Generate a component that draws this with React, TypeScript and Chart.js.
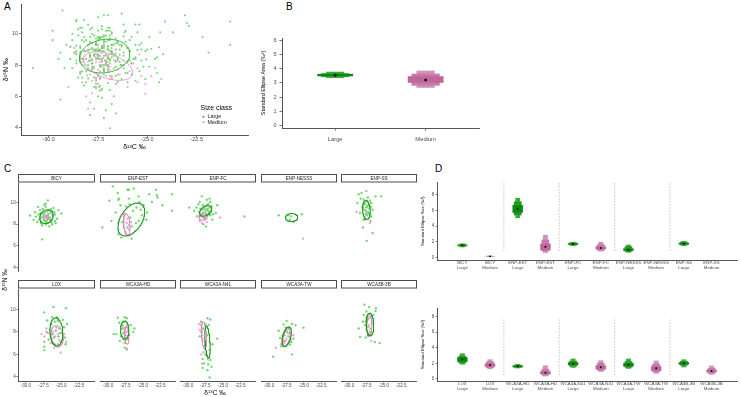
import React, { useEffect, useRef } from 'react';
import { Chart, registerables } from 'chart.js';

Chart.register(...registerables);

const FONT = '"Liberation Sans", Arial, Helvetica, sans-serif';

// ---------- data ----------
const SITES = ['BICY', 'ENP-EST', 'ENP-FC', 'ENP-NESSS', 'ENP-SS', 'LOX', 'WCA3A-HD', 'WCA3A-N41', 'WCA3A-TW', 'WCA3B-3B'];
const SIZE_CLASSES = ['Large', 'Medium'];

// [δ13C, δ15N] per individual
const BICY_LARGE = [[-27.1, 8.7], [-27.5, 8.9], [-26.8, 8.5], [-27.3, 8.3], [-26.6, 9.0], [-27.9, 8.6], [-28.2, 8.9], [-26.2, 8.8], [-27.0, 9.2], [-27.6, 9.4], [-26.4, 8.2], [-27.8, 8.1], [-28.6, 8.7], [-25.6, 8.5], [-25.0, 9.0], [-29.4, 8.8], [-26.9, 10.2], [-27.4, 9.8], [-26.1, 9.5], [-28.0, 9.3], [-27.2, 8.0], [-26.7, 7.8], [-27.7, 7.9], [-28.4, 8.2], [-25.8, 8.1], [-26.5, 9.4], [-27.0, 8.4], [-27.4, 8.6], [-26.9, 8.9], [-27.7, 6.6], [-28.9, 8.4], [-25.4, 9.3], [-26.3, 8.0], [-27.6, 9.0], [-26.6, 8.6], [-27.2, 9.6], [-25.9, 8.9], [-27.3, 9.1], [-26.8, 9.3], [-27.9, 9.0], [-26.5, 8.4], [-27.1, 8.2], [-28.1, 8.4], [-26.0, 9.1], [-27.5, 8.4], [-26.9, 8.1], [-27.6, 8.7], [-26.3, 9.2], [-28.3, 9.6], [-25.9, 8.3], [-27.2, 9.9], [-28.7, 9.1]];
const BICY_MEDIUM = [[-27.0, 8.6], [-27.3, 8.8], [-26.9, 8.7], [-26.6, 8.3], [-27.5, 8.5]];
const ENP_EST_LARGE = [[-29.3, 11.5], [-28.6, 10.9], [-27.2, 11.2], [-27.0, 11.2], [-28.4, 10.4], [-28.5, 10.3], [-25.6, 10.6], [-25.5, 10.1], [-24.1, 10.8], [-23.1, 11.2], [-23.0, 10.7], [-22.9, 10.5], [-20.8, 10.8], [-20.8, 9.3], [-23.7, 10.1], [-24.4, 9.15], [-30.8, 7.8], [-29.5, 8.4], [-28.5, 7.2], [-28.1, 6.9], [-26.6, 6.8], [-27.2, 7.8], [-26.8, 8.7], [-26.4, 9.3], [-25.9, 9.6], [-26.6, 7.9], [-27.95, 8.3], [-28.9, 9.15], [-27.4, 9.7], [-25.6, 8.4], [-25.1, 8.9], [-26.1, 7.5], [-27.0, 10.4], [-24.9, 9.8], [-26.0, 8.2], [-27.7, 9.0], [-26.9, 9.9], [-25.3, 9.4], [-28.2, 9.8], [-24.5, 8.5], [-22.2, 9.8], [-29.8, 10.2], [-26.3, 11.3]];
const ENP_EST_MEDIUM = [[-27.6, 8.9], [-27.3, 8.2], [-27.0, 7.6], [-27.5, 7.4], [-27.2, 8.6], [-26.9, 7.1], [-27.7, 7.8], [-27.0, 8.0], [-27.4, 7.2], [-26.7, 8.3]];
const ENP_FC_LARGE = [[-28.0, 10.6], [-28.3, 10.1], [-29.8, 9.6], [-29.1, 9.3], [-28.7, 8.8], [-28.3, 8.4], [-27.8, 8.1], [-27.4, 7.9], [-26.5, 8.5], [-26.0, 9.1], [-25.8, 9.8], [-26.8, 10.1], [-27.3, 9.8], [-21.9, 8.8], [-27.5, 9.3], [-27.2, 9.5], [-27.8, 9.1], [-27.0, 9.2], [-27.6, 9.7], [-27.3, 8.9], [-27.9, 9.4], [-26.9, 9.6], [-27.4, 9.0], [-28.0, 9.0], [-27.1, 9.9], [-26.7, 9.3], [-27.7, 8.7], [-28.2, 9.5], [-26.8, 8.9], [-27.6, 9.5], [-27.0, 9.0], [-27.9, 9.8], [-26.6, 9.7], [-28.4, 9.2], [-27.3, 10.3], [-28.5, 9.9], [-27.5, 8.6], [-26.4, 9.0], [-27.2, 9.35], [-28.8, 9.6], [-26.9, 10.4]];
const ENP_FC_MEDIUM = [[-27.9, 8.7], [-27.6, 8.5], [-28.1, 8.9], [-27.4, 8.6], [-27.8, 9.0], [-25.4, 8.7], [-28.3, 8.4], [-28.0, 8.2], [-27.3, 8.3], [-28.6, 8.8]];
const ENP_NESSS_LARGE = [[-28.6, 8.9], [-27.0, 8.5], [-26.5, 8.3], [-25.3, 9.0], [-26.8, 8.8], [-27.2, 8.9]];
const ENP_NESSS_MEDIUM = [[-25.1, 6.8]];
const ENP_SS_LARGE = [[-28.6, 10.8], [-28.2, 10.9], [-27.5, 11.07], [-28.8, 10.0], [-27.0, 10.2], [-26.6, 9.4], [-26.8, 8.8], [-27.9, 8.5], [-28.0, 7.8], [-27.45, 6.6], [-26.6, 7.3], [-28.4, 9.1], [-27.5, 9.6], [-27.3, 9.2], [-27.7, 9.9], [-27.2, 9.8], [-27.6, 9.0], [-27.4, 8.9], [-27.8, 9.4], [-27.1, 9.5], [-27.9, 10.3], [-27.3, 10.5], [-26.9, 9.7], [-26.2, 10.6], [-25.4, 10.6], [-27.6, 9.3], [-27.2, 9.1], [-27.8, 10.0], [-27.4, 9.7], [-26.8, 10.0], [-28.1, 9.6], [-27.7, 8.6], [-27.0, 9.0], [-28.3, 10.4], [-26.9, 8.4], [-27.5, 10.2]];
const ENP_SS_MEDIUM = [[-28.9, 9.2], [-27.0, 8.2], [-27.5, 9.1]];
const LOX_LARGE = [[-27.45, 9.73], [-26.1, 10.2], [-24.35, 10.1], [-24.8, 9.05], [-27.4, 7.12], [-27.4, 6.68], [-27.4, 6.38], [-27.1, 8.0], [-26.4, 8.66], [-25.5, 8.96], [-24.6, 8.4], [-24.5, 7.5], [-25.1, 7.1], [-26.0, 6.9], [-25.3, 8.3], [-26.2, 7.8], [-25.7, 8.4], [-24.9, 7.9], [-26.8, 7.3], [-25.9, 8.9], [-26.3, 9.3], [-25.8, 8.1], [-25.4, 7.6], [-26.0, 7.5], [-25.6, 9.3], [-24.2, 8.7], [-26.6, 8.2], [-25.2, 7.9], [-27.0, 9.0], [-24.4, 6.9]];
const LOX_MEDIUM = [[-26.9, 7.9], [-27.4, 7.6], [-26.4, 7.4], [-25.5, 7.8], [-24.8, 7.3], [-24.3, 7.1], [-25.1, 6.15], [-25.7, 8.1], [-26.5, 7.0], [-27.1, 8.3], [-27.8, 7.8], [-25.9, 7.6], [-25.3, 7.3], [-26.2, 8.0], [-24.6, 7.8], [-26.0, 6.6], [-25.5, 6.9]];
const WCA3A_HD_LARGE = [[-28.6, 9.25], [-27.6, 9.3], [-27.3, 9.2], [-28.8, 7.8], [-28.3, 7.2], [-27.6, 6.6], [-27.3, 6.5], [-26.2, 8.3], [-26.35, 8.0], [-27.2, 8.6], [-27.9, 8.3], [-27.7, 8.9], [-27.0, 7.7], [-28.1, 7.6], [-27.5, 7.3], [-29.2, 7.8], [-27.4, 8.4], [-27.8, 7.9], [-27.1, 8.1], [-27.9, 8.6], [-27.2, 7.4], [-28.4, 8.8], [-26.7, 8.6], [-27.6, 7.0]];
const WCA3A_HD_MEDIUM = [[-27.3, 8.0], [-27.1, 7.3], [-27.3, 6.4], [-27.8, 8.4], [-27.5, 7.7], [-27.0, 7.8], [-27.6, 8.2]];
const WCA3A_N41_LARGE = [[-28.15, 8.9], [-27.2, 9.2], [-26.8, 9.1], [-25.8, 7.4], [-27.7, 5.2], [-27.1, 5.1], [-27.9, 4.8], [-26.9, 3.95], [-27.3, 5.9], [-27.6, 6.8], [-27.2, 7.7], [-27.8, 8.3], [-26.9, 6.4], [-27.4, 7.2], [-28.0, 8.0], [-27.5, 6.0], [-26.8, 5.5], [-27.9, 5.6], [-27.2, 4.6], [-26.6, 4.9], [-28.3, 7.6], [-27.0, 8.6], [-27.5, 8.7], [-26.5, 6.9]];
const WCA3A_N41_MEDIUM = [[-28.15, 8.6], [-28.0, 7.7], [-27.6, 7.1], [-28.2, 8.0], [-27.6, 6.5], [-28.0, 5.2], [-27.8, 6.2], [-28.4, 8.7], [-27.9, 7.4], [-28.3, 8.2], [-27.5, 6.8], [-28.1, 6.0]];
const WCA3A_TW_LARGE = [[-27.46, 8.96], [-27.9, 8.66], [-26.7, 8.7], [-25.05, 8.37], [-29.4, 5.8], [-26.7, 6.0], [-27.0, 6.85], [-28.0, 7.15], [-27.4, 8.0], [-26.5, 7.4], [-27.8, 7.7], [-27.15, 8.3], [-28.2, 6.7], [-28.4, 7.45], [-27.2, 7.6], [-27.7, 7.2], [-27.0, 7.9], [-27.6, 8.4], [-26.8, 7.1], [-28.6, 8.1], [-26.2, 8.6]];
const WCA3A_TW_MEDIUM = [[-29.0, 6.6], [-27.8, 7.0], [-27.5, 7.4], [-26.9, 7.3], [-28.05, 7.35], [-26.5, 7.7], [-27.3, 7.9], [-27.6, 7.2], [-28.3, 6.9]];
const WCA3B_3B_LARGE = [[-27.8, 10.4], [-27.1, 10.2], [-26.15, 10.1], [-26.2, 9.85], [-27.9, 9.5], [-26.8, 9.3], [-28.6, 8.3], [-28.4, 7.55], [-25.6, 7.0], [-26.3, 7.1], [-27.0, 8.0], [-27.5, 8.9], [-27.25, 8.45], [-27.7, 8.6], [-26.6, 8.75], [-27.3, 9.1], [-27.0, 9.6], [-27.5, 9.8], [-26.9, 8.3], [-27.2, 7.7], [-27.6, 7.5], [-26.5, 9.5], [-28.0, 8.9]];
const WCA3B_3B_MEDIUM = [[-27.1, 8.6], [-27.4, 8.2], [-26.9, 7.7], [-26.8, 7.2], [-27.6, 8.9], [-26.6, 9.0], [-27.3, 8.4], [-27.0, 8.0], [-27.2, 9.2]];

const SITE_LARGE = [BICY_LARGE, ENP_EST_LARGE, ENP_FC_LARGE, ENP_NESSS_LARGE, ENP_SS_LARGE, LOX_LARGE, WCA3A_HD_LARGE, WCA3A_N41_LARGE, WCA3A_TW_LARGE, WCA3B_3B_LARGE];
const SITE_MEDIUM = [BICY_MEDIUM, ENP_EST_MEDIUM, ENP_FC_MEDIUM, ENP_NESSS_MEDIUM, ENP_SS_MEDIUM, LOX_MEDIUM, WCA3A_HD_MEDIUM, WCA3A_N41_MEDIUM, WCA3A_TW_MEDIUM, WCA3B_3B_MEDIUM];

// standard ellipses: [centre δ13C, centre δ15N, semi-major, semi-minor, angle°]
const ELLIPSE_ALL_LARGE = [-27.16, 8.58, 1.3, 1.05, 20];
const ELLIPSE_ALL_MEDIUM = [-26.99, 7.94, 1.35, 0.75, -28];
const ELLIPSE_SITE_LARGE = [
  [-27.1, 8.7, 0.95, 0.62, 10],
  [-26.65, 8.52, 2.1, 1.2, 30],
  [-27.46, 9.29, 0.9, 0.42, 15],
  [-26.76, 8.7, 0.88, 0.36, 0],
  [-27.5, 9.38, 0.85, 0.55, 100],
  [-25.7, 8.0, 1.25, 0.9, 100],
  [-27.6, 8.16, 0.8, 0.6, 95],
  [-27.2, 7.12, 1.45, 0.35, 97],
  [-27.46, 7.57, 0.95, 0.55, 60],
  [-27.0, 8.66, 1.0, 0.55, 95],
];
const ELLIPSE_SITE_MEDIUM = [
  [-27.0, 8.7, 0.22, 0.15, 0],
  [-27.3, 8.1, 1.0, 0.45, 100],
  [-27.8, 8.8, 0.6, 0.33, 10],
  null,
  null,
  [-25.6, 7.6, 1.0, 0.85, 120],
  [-27.3, 7.7, 0.8, 0.3, 95],
  [-27.7, 7.7, 1.2, 0.35, 97],
  [-27.5, 7.5, 0.8, 0.45, 60],
  [-27.1, 8.6, 0.85, 0.4, 95],
];

// Bayesian standard ellipse areas (‰²): mode and 50 / 75 / 95 % credible intervals
const SEA_ALL_MODE = [3.54, 3.2];
const SEA_ALL_50 = [[3.44, 3.66], [2.97, 3.5]];
const SEA_ALL_75 = [[3.38, 3.72], [2.78, 3.68]];
const SEA_ALL_95 = [[3.31, 3.82], [2.62, 3.9]];

const SEA_TOP_MODE = [1.54, 0.12, 6.23, 1.36, 1.7, 1.19, 0.98, null, 1.75, null];
const SEA_TOP_50 = [[1.4, 1.68], [0.07, 0.18], [5.64, 6.79], [0.85, 1.8], [1.55, 1.85], [0.95, 1.45], [0.78, 1.2], null, [1.58, 1.93], null];
const SEA_TOP_75 = [[1.32, 1.76], [0.04, 0.22], [5.33, 7.22], [0.7, 2.3], [1.47, 1.95], [0.82, 1.72], [0.65, 1.45], null, [1.48, 2.05], null];
const SEA_TOP_95 = [[1.23, 1.82], [0.02, 0.27], [4.98, 7.68], [0.52, 2.92], [1.38, 2.03], [0.7, 2.02], [0.55, 1.68], null, [1.38, 2.15], null];

const SEA_BOTTOM_MODE = [2.53, 1.8, 1.63, 0.81, 1.96, 1.5, 1.84, 1.37, 2.0, 1.03];
const SEA_BOTTOM_50 = [[2.15, 2.85], [1.5, 2.05], [1.45, 1.8], [0.55, 1.05], [1.7, 2.2], [1.2, 1.8], [1.55, 2.1], [1.0, 1.7], [1.8, 2.2], [0.8, 1.25]];
const SEA_BOTTOM_75 = [[1.95, 3.05], [1.35, 2.3], [1.37, 1.9], [0.42, 1.35], [1.55, 2.4], [1.02, 2.1], [1.4, 2.35], [0.82, 2.02], [1.65, 2.38], [0.65, 1.48]];
const SEA_BOTTOM_95 = [[1.8, 3.34], [1.22, 2.57], [1.3, 2.0], [0.3, 1.8], [1.37, 2.65], [0.86, 2.44], [1.24, 2.65], [0.64, 2.4], [1.45, 2.57], [0.51, 1.76]];

const CN_X_TICKS = [-30, -27.5, -25, -22.5];
const CN_Y_TICKS = [4, 6, 8, 10];
const SEA_ALL_TICKS = [0, 1, 2, 3, 4, 5, 6];
const SEA_SITE_TICKS = [0, 2, 4, 6, 8];
const SEPARATORS = [2.5, 4.5, 6.5, 8.5];

// ---------- styling ----------
const GREEN_PT = 'rgba(88, 204, 88, 0.8)';
const PINK_PT = 'rgba(238, 152, 208, 0.85)';
const HDR_COLORS: Record<string, string[]> = {
  Large: ['#0c890c', '#179d17', '#2db22d'],
  Medium: ['#bf679b', '#c978a9', '#d48fba'],
};
const AXIS_GREY = '#555555';
const TICK_TEXT = '#4d4d4d';

function ellipsePath(p: number[]) {
  const [cx, cy, a, b, deg] = p;
  const th = (deg * Math.PI) / 180;
  const out: { x: number; y: number }[] = [];
  for (let k = 0; k <= 96; k++) {
    const t = (k / 96) * 2 * Math.PI;
    out.push({
      x: cx + a * Math.cos(t) * Math.cos(th) - b * Math.sin(t) * Math.sin(th),
      y: cy + a * Math.cos(t) * Math.sin(th) + b * Math.sin(t) * Math.cos(th),
    });
  }
  return out;
}

const toXY = (pts: number[][]) => pts.map(([x, y]) => ({ x, y }));

function pointSet(pts: number[][], color: string, r: number) {
  return { type: 'scatter', data: toXY(pts), backgroundColor: color, borderWidth: 0, pointRadius: r, pointHoverRadius: r };
}

function lineSet(data: { x: number; y: number }[], color: string, w: number, dash?: number[]) {
  return { type: 'line', data, borderColor: color, borderWidth: w, borderDash: dash || [], pointRadius: 0, fill: false, tension: 0, showLine: true };
}

interface AxisSpec {
  min: number;
  max: number;
  size: number;
  ticks?: number[];
  labels?: boolean;
  fmt?: (v: number) => any;
  font?: number;
  lineHeight?: number;
  tickLen?: number;
  pad?: number;
  border?: boolean;
  title?: string;
  titleSize?: number;
  titlePad?: number;
}

function linearAxis(s: AxisSpec) {
  const showTickMarks = !!s.labels && (s.tickLen ?? 2) > 0;
  return {
    type: 'linear',
    min: s.min,
    max: s.max,
    offset: false,
    afterFit: (sc: any) => {
      if (sc.isHorizontal()) sc.height = s.size;
      else sc.width = s.size;
    },
    afterBuildTicks: (sc: any) => {
      sc.ticks = (s.ticks || []).map((v) => ({ value: v }));
    },
    ticks: {
      display: !!s.labels,
      autoSkip: false,
      maxRotation: 0,
      minRotation: 0,
      padding: s.pad ?? 1,
      color: TICK_TEXT,
      font: { family: FONT, size: s.font ?? 5, lineHeight: s.lineHeight ?? 1.2 },
      callback: s.fmt ?? ((v: number) => String(v)),
    },
    grid: {
      display: showTickMarks,
      drawOnChartArea: false,
      drawTicks: true,
      tickLength: s.tickLen ?? 2,
      color: AXIS_GREY,
      lineWidth: 0.8,
      offset: false,
    },
    border: { display: !!s.border, color: AXIS_GREY, width: 1 },
    title: s.title
      ? { display: true, text: s.title, color: '#000', font: { family: FONT, size: s.titleSize ?? 7 }, padding: { top: s.titlePad ?? 0, bottom: s.titlePad ?? 0 } }
      : { display: false },
  };
}

function baseOptions(padding: any, extraPlugins: any = {}) {
  return {
    animation: false,
    responsive: false,
    maintainAspectRatio: false,
    events: [],
    layout: { padding },
    plugins: { legend: { display: false }, tooltip: { enabled: false }, title: { display: false }, ...extraPlugins },
  };
}

// legend for the pooled isotope plot
const sizeLegendPlugin = {
  id: 'sizeLegend',
  afterDraw(chart: any, _a: any, opts: any) {
    const { ctx } = chart;
    ctx.save();
    ctx.textBaseline = 'middle';
    ctx.textAlign = 'left';
    ctx.fillStyle = '#000';
    ctx.font = `7px ${FONT}`;
    ctx.fillText('Size class', opts.x, opts.y);
    ctx.font = `5.4px ${FONT}`;
    SIZE_CLASSES.forEach((s, i) => {
      const y = opts.y + 8.5 + i * 5.4;
      ctx.fillStyle = i === 0 ? '#3cbf3c' : '#ee98cf';
      ctx.beginPath();
      ctx.arc(opts.x + 3, y, 1.1, 0, Math.PI * 2);
      ctx.fill();
      ctx.fillStyle = '#1a1a1a';
      ctx.fillText(s, opts.x + 7, y);
    });
    ctx.restore();
  },
};

// facet strip above each site panel
const stripPlugin = {
  id: 'strip',
  afterDraw(chart: any, _a: any, opts: any) {
    const { ctx, chartArea } = chart;
    const h = opts.height;
    const x0 = Math.round(chartArea.left) + 0.5;
    const x1 = Math.round(chartArea.right) - 0.5;
    ctx.save();
    ctx.fillStyle = '#ffffff';
    ctx.fillRect(x0, 0.5, x1 - x0, h - 1);
    ctx.strokeStyle = '#4d4d4d';
    ctx.lineWidth = 1;
    ctx.strokeRect(x0, 0.5, x1 - x0, h - 1.5);
    ctx.fillStyle = '#1a1a1a';
    ctx.font = `4.6px ${FONT}`;
    ctx.textAlign = 'center';
    ctx.textBaseline = 'middle';
    ctx.fillText(opts.text, (x0 + x1) / 2, h / 2);
    ctx.restore();
  },
};

// ---------- panel A ----------
function pooledConfig() {
  return {
    type: 'scatter',
    data: {
      datasets: [
        lineSet(ellipsePath(ELLIPSE_ALL_LARGE), '#35b335', 1),
        lineSet(ellipsePath(ELLIPSE_ALL_MEDIUM), '#e4a3d0', 1),
        pointSet(SITE_MEDIUM.flat(), PINK_PT, 1.05),
        pointSet(SITE_LARGE.flat(), GREEN_PT, 1.05),
      ],
    },
    options: {
      ...baseOptions({ top: 1, right: 2, left: 0, bottom: 0 }, { sizeLegend: { x: 200.5, y: 108.3 } }),
      scales: {
        x: linearAxis({ min: -31.4, max: -19.9, size: 17, ticks: CN_X_TICKS, labels: true, fmt: (v) => v.toFixed(1), font: 5.5, tickLen: 2, pad: -0.5, border: true, title: 'δ¹³C ‰', titleSize: 7, titlePad: 0.8 }),
        y: linearAxis({ min: 3.52, max: 11.9, size: 21, ticks: CN_Y_TICKS, labels: true, font: 5.5, tickLen: 2, pad: 1, border: true, title: 'δ¹⁵N ‰', titleSize: 7, titlePad: 1.6 }),
      },
    },
    plugins: [sizeLegendPlugin],
  };
}

// ---------- density boxes (panels B and D) ----------
interface HdrSpec {
  modes: (number | null)[];
  h50: (number[] | null)[];
  h75: (number[] | null)[];
  h95: (number[] | null)[];
  labels: (string | string[])[];
  x: [number, number];
  y: [number, number];
  yTicks: number[];
  yAxisW: number;
  xAxisH: number;
  padTop: number;
  padRight: number;
  labelFont: number;
  labelPad: number;
  labelLineHeight: number;
  xTickLen: number;
  yFont: number;
  yTickLen: number;
  yPad: number;
  title: string;
  titleSize: number;
  titlePad: number;
  modeR: number;
  widths: number[];
  separators?: number[];
  sepRange?: number[];
}

function hdrConfig(s: HdrSpec) {
  const band = (vals: (number[] | null)[], level: number, pct: number) => ({
    type: 'bar',
    grouped: false,
    barPercentage: pct,
    categoryPercentage: 1,
    data: vals.map((v, i) => (v ? { x: i + 1, y: v } : null)).filter(Boolean),
    backgroundColor: (c: any) => HDR_COLORS[SIZE_CLASSES[(c.raw.x - 1) % 2]][level],
    borderColor: 'rgba(170,170,170,0.55)',
    borderWidth: 0.5,
    borderSkipped: false,
  });
  const sepSets = (s.separators || []).map((x) =>
    lineSet([{ x, y: s.sepRange![0] }, { x, y: s.sepRange![1] }], '#a6a6a6', 0.6, [1.6, 1.4])
  );
  return {
    type: 'bar',
    data: {
      datasets: [
        {
          type: 'scatter',
          data: s.modes.map((m, i) => (m === null ? null : { x: i + 1, y: m })).filter(Boolean),
          backgroundColor: '#000',
          borderWidth: 0,
          pointRadius: s.modeR,
        },
        band(s.h50, 0, s.widths[0]),
        band(s.h75, 1, s.widths[1]),
        band(s.h95, 2, s.widths[2]),
        ...sepSets,
      ],
    },
    options: {
      ...baseOptions({ top: s.padTop, right: s.padRight, left: 0, bottom: 0 }),
      scales: {
        x: linearAxis({
          min: s.x[0], max: s.x[1], size: s.xAxisH, ticks: s.labels.map((_, i) => i + 1), labels: true,
          fmt: (v) => s.labels[Math.round(v) - 1], font: s.labelFont, lineHeight: s.labelLineHeight,
          tickLen: s.xTickLen, pad: s.labelPad, border: true,
        }),
        y: linearAxis({
          min: s.y[0], max: s.y[1], size: s.yAxisW, ticks: s.yTicks, labels: true, font: s.yFont,
          tickLen: s.yTickLen, pad: s.yPad, border: true, title: s.title, titleSize: s.titleSize, titlePad: s.titlePad,
        }),
      },
    },
  };
}

const siteLabels = (sites: string[]) => sites.flatMap((site) => SIZE_CLASSES.map((c) => [site, c]));

function seaAllConfig() {
  return hdrConfig({
    modes: SEA_ALL_MODE, h50: SEA_ALL_50, h75: SEA_ALL_75, h95: SEA_ALL_95,
    labels: SIZE_CLASSES, x: [0.412, 2.59], y: [-0.17, 6.16], yTicks: SEA_ALL_TICKS,
    yAxisW: 27, xAxisH: 22, padTop: 13, padRight: 2,
    labelFont: 5.8, labelPad: 5, labelLineHeight: 1.2, xTickLen: 2.5,
    yFont: 5.5, yTickLen: 2.5, yPad: 3,
    title: 'Standard Ellipse Area (‰²)', titleSize: 5.4, titlePad: 4.8,
    modeR: 1.4, widths: [0.405, 0.32, 0.21],
  });
}

function seaSiteConfig(top: boolean) {
  return hdrConfig({
    modes: top ? SEA_TOP_MODE : SEA_BOTTOM_MODE,
    h50: top ? SEA_TOP_50 : SEA_BOTTOM_50,
    h75: top ? SEA_TOP_75 : SEA_BOTTOM_75,
    h95: top ? SEA_TOP_95 : SEA_BOTTOM_95,
    labels: siteLabels(top ? SITES.slice(0, 5) : SITES.slice(5)),
    x: [0.11, 10.92], y: top ? [-0.35, 9.6] : [-0.26, 9.11], yTicks: SEA_SITE_TICKS,
    yAxisW: 22.7, xAxisH: 15, padTop: top ? 10.5 : 12, padRight: 0,
    labelFont: 4.4, labelPad: 0.6, labelLineHeight: 1.12, xTickLen: 0,
    yFont: 4.5, yTickLen: 2, yPad: 1.5,
    title: 'Standard Ellipse Size (‰²)', titleSize: 4.2, titlePad: 5.5,
    modeR: 0.95, widths: [0.41, 0.31, 0.21],
    separators: SEPARATORS, sepRange: top ? [0.85, 9.56] : [0.51, 7.7],
  });
}

// ---------- panel C facets ----------
const FACET_LEFT = [18, 99, 179, 260, 340];
const FACET_W = 78;
const STRIP_TOP = [174, 280];
const STRIP_H = 9;
const PANEL_H = 92;
const FACET_XAXIS_H = [0, 9];

function facetBox(site: number) {
  const row = site < 5 ? 0 : 1;
  const col = site % 5;
  const left = col === 0 ? 0 : FACET_LEFT[col];
  const yAxisW = FACET_LEFT[col] - left;
  return { row, col, left, top: STRIP_TOP[row], width: yAxisW + FACET_W, height: STRIP_H + PANEL_H + FACET_XAXIS_H[row], yAxisW };
}

function facetConfig(site: number) {
  const { row, col, yAxisW } = facetBox(site);
  const datasets: any[] = [];
  datasets.push(lineSet(ellipsePath(ELLIPSE_SITE_LARGE[site]), '#1f9a1f', 1.1));
  const em = ELLIPSE_SITE_MEDIUM[site];
  if (em) datasets.push(lineSet(ellipsePath(em), '#e184c2', 1.0));
  datasets.push(pointSet(SITE_MEDIUM[site], PINK_PT, 1.2));
  datasets.push(pointSet(SITE_LARGE[site], GREEN_PT, 1.2));
  return {
    type: 'scatter',
    data: { datasets },
    options: {
      ...baseOptions({ top: STRIP_H, right: 0, left: 0, bottom: 0 }, { strip: { text: SITES[site], height: STRIP_H } }),
      scales: {
        x: linearAxis({
          min: -31.11, max: -20.28, size: FACET_XAXIS_H[row], ticks: CN_X_TICKS, labels: row === 1,
          fmt: (v) => v.toFixed(1), font: 4.6, tickLen: 1.5, pad: 0, border: row === 1,
        }),
        y: linearAxis({
          min: 3.64, max: 11.8, size: yAxisW, ticks: CN_Y_TICKS, labels: col === 0,
          font: 4.6, tickLen: 1.5, pad: 0.8, border: col === 0,
        }),
      },
    },
    plugins: [stripPlugin],
  };
}

// ---------- components ----------
function ChartCanvas({ left, top, width, height, make }: { left: number; top: number; width: number; height: number; make: () => any }) {
  const ref = useRef<HTMLCanvasElement | null>(null);
  useEffect(() => {
    if (!ref.current) return;
    const chart = new Chart(ref.current, make());
    return () => chart.destroy();
  }, []);
  return (
    <canvas
      ref={ref}
      width={width}
      height={height}
      style={{ position: 'absolute', left, top, width, height, display: 'block' }}
    />
  );
}

const panelLetter = (text: string, left: number, top: number) => (
  <div style={{ position: 'absolute', left, top, fontFamily: FONT, fontSize: 10, lineHeight: '10px', color: '#000' }}>{text}</div>
);

const isoLabel = (el: string, mass: string) => (
  <span>
    δ<sup style={{ fontSize: '0.65em', verticalAlign: '0.45em', lineHeight: 0 }}>{mass}</sup>
    {el} ‰
  </span>
);

export default function App() {
  return (
    <div style={{ position: 'absolute', left: 0, top: 0, width: 741, height: 397, background: '#fff', overflow: 'hidden' }}>
      {panelLetter('A', 4, 2)}
      {panelLetter('B', 286, 2)}
      {panelLetter('C', 4, 164)}
      {panelLetter('D', 435, 164)}

      <ChartCanvas left={0} top={0} width={250} height={152} make={pooledConfig} />
      <ChartCanvas left={255} top={25} width={228} height={125} make={seaAllConfig} />

      {SITES.map((_, i) => {
        const b = facetBox(i);
        return <ChartCanvas key={i} left={b.left} top={b.top} width={b.width} height={b.height} make={() => facetConfig(i)} />;
      })}

      <div style={{ position: 'absolute', left: -25, top: 276, width: 60, height: 8, lineHeight: '8px', textAlign: 'center', fontFamily: FONT, fontSize: 6.5, transform: 'rotate(-90deg)' }}>
        {isoLabel('N', '15')}
      </div>
      <div style={{ position: 'absolute', left: 185, top: 388.5, width: 60, height: 8, lineHeight: '8px', textAlign: 'center', fontFamily: FONT, fontSize: 6.5 }}>
        {isoLabel('C', '13')}
      </div>

      <ChartCanvas left={415} top={172} width={326} height={103} make={() => seaSiteConfig(true)} />
      <ChartCanvas left={415} top={296} width={326} height={100} make={() => seaSiteConfig(false)} />
    </div>
  );
}
